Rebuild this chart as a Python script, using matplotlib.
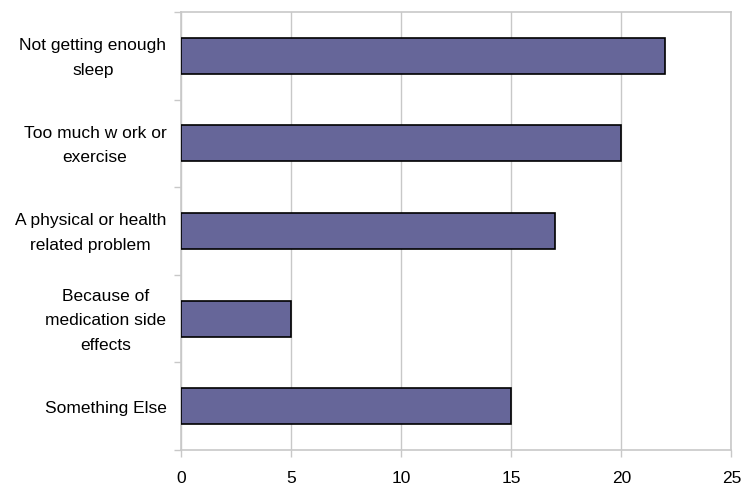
import matplotlib.pyplot as plt
import numpy as np

plt.rcParams['font.family'] = ['Liberation Sans', 'DejaVu Sans']

# Reasons, top to bottom as shown
reasons = [
    'Not getting enough\nsleep',
    'Too much w ork or\nexercise',
    'A physical or health\nrelated problem',
    'Because of\nmedication side\neffects',
    'Something Else',
]
counts = [22, 20, 17, 5, 15]

grey = '#c8c8c8'

fig = plt.figure(figsize=(7.41, 4.86), dpi=100)
ax = fig.add_axes([0.2443, 0.074, 0.7427, 0.9013])

ypos = np.arange(len(reasons))
ax.barh(ypos, counts, height=0.41, color='#666699', edgecolor='black',
        linewidth=1.2, zorder=3)

ax.set_xlim(0, 25)
ax.set_ylim(len(reasons) - 0.5, -0.5)
ax.set_xticks([0, 5, 10, 15, 20, 25])
ax.xaxis.grid(True, color=grey, linewidth=1, zorder=0)

# ticks on the category boundaries, labels written beside the axis
ax.set_yticks(np.arange(len(reasons) + 1) - 0.5)
ax.set_yticklabels([])
ax.tick_params(axis='y', length=5, color=grey, width=1)
ax.tick_params(axis='x', length=5, color=grey, width=1, pad=10, labelsize=12.5)

for y, label in zip(ypos, reasons):
    ax.annotate(label, xy=(0, y), xycoords=('axes fraction', 'data'),
                xytext=(-10.5, -1.5), textcoords='offset points',
                ha='right', va='center', multialignment='center',
                fontsize=12.5, linespacing=1.78,
                annotation_clip=False)

for side in ['left', 'bottom', 'top', 'right']:
    ax.spines[side].set_color(grey)
    ax.spines[side].set_linewidth(1.2)

fig.savefig('out.png', dpi=100)
